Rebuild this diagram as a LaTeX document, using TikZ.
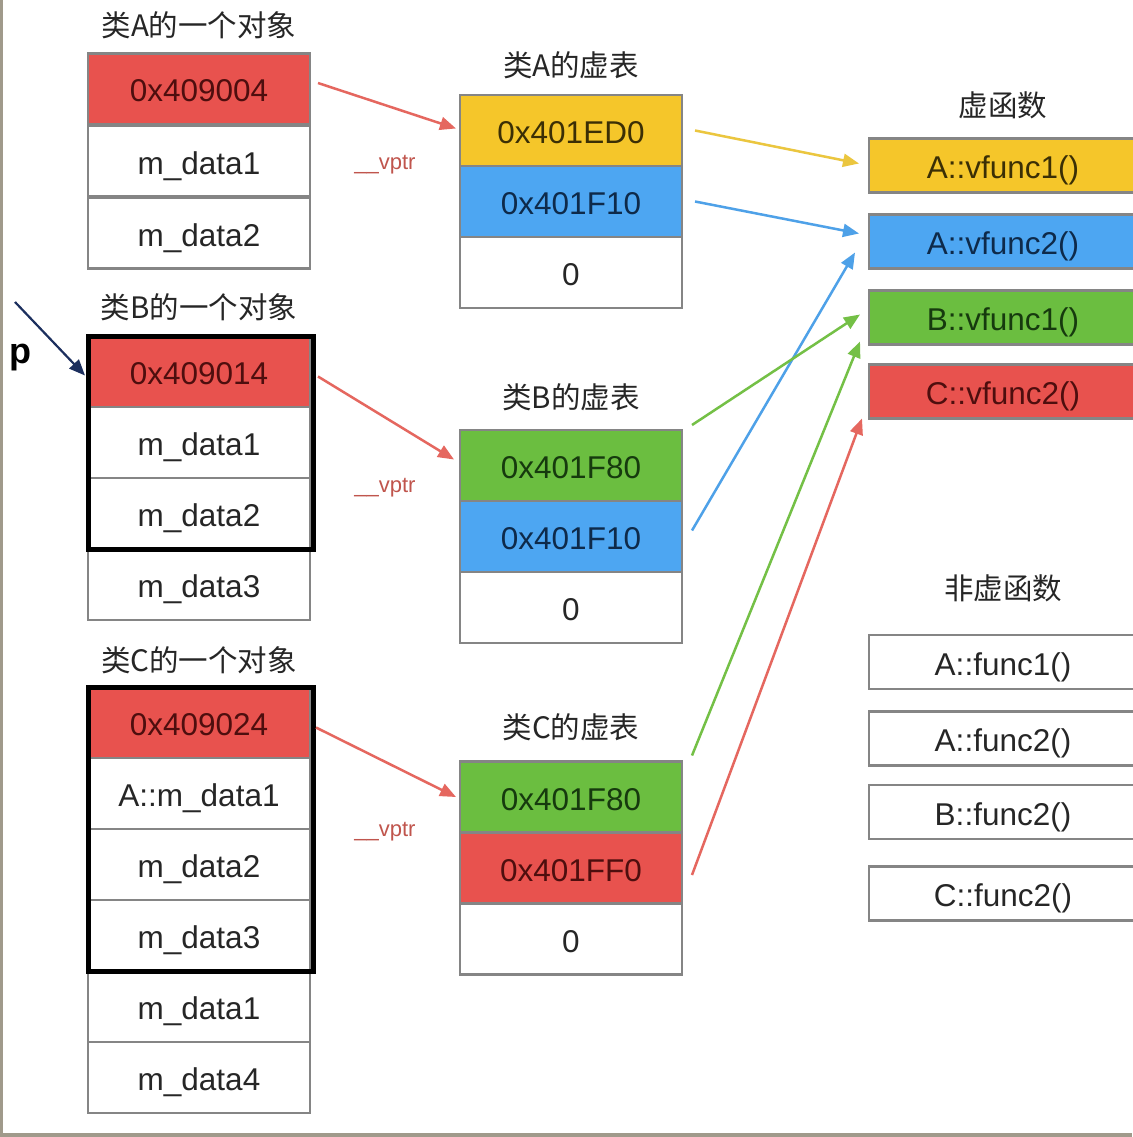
\documentclass[tikz,border=0pt]{standalone}
\usepackage{fontspec}
\setmainfont{Liberation Sans}
\newfontfamily\cjk{Noto Sans CJK SC}
\usetikzlibrary{arrows.meta}
\definecolor{cellred}{HTML}{E8524E}
\definecolor{cellyellow}{HTML}{F5C62A}
\definecolor{cellblue}{HTML}{4DA6F2}
\definecolor{cellgreen}{HTML}{6BBE40}
\definecolor{cellgrey}{HTML}{858585}
\definecolor{txtred}{HTML}{4E0E0E}
\definecolor{txtyellow}{HTML}{3B2F05}
\definecolor{txtblue}{HTML}{0E2A4A}
\definecolor{txtgreen}{HTML}{163A0E}
\definecolor{arrred}{HTML}{E5675F}
\definecolor{arryellow}{HTML}{EBC63F}
\definecolor{arrblue}{HTML}{4EA1E8}
\definecolor{arrgreen}{HTML}{74C046}
\definecolor{arrnavy}{HTML}{1C2F5E}
\definecolor{vptrcol}{HTML}{C0554D}
\definecolor{framecol}{HTML}{A09A8B}
\begin{document}
\begin{tikzpicture}[x=1pt,y=-1pt,
  cell/.style={draw=cellgrey, line width=2.5pt, minimum width=222pt, minimum height=71pt,
    inner sep=0pt, outer sep=0pt, font=\fontsize{31.5}{36}\selectfont, text=black!85,
    text height=26pt, text depth=0pt},
  fcell/.style={draw=cellgrey, line width=2.5pt, minimum width=268pt, minimum height=54pt,
    inner sep=0pt, outer sep=0pt, font=\fontsize{31.5}{36}\selectfont, text=black!85,
    text height=26pt, text depth=0pt},
  rcell/.style={fill=cellred, text=txtred},
  ycell/.style={fill=cellyellow, text=txtyellow},
  bcell/.style={fill=cellblue, text=txtblue},
  gcell/.style={fill=cellgreen, text=txtgreen},
  ttl/.style={font=\cjk\fontsize{29.5}{34}\selectfont, text=black!85, inner sep=0pt},
  vptr/.style={font=\fontsize{22}{26}\selectfont, text=vptrcol, inner sep=0pt},
  conn/.style={line width=2.5pt, -{Triangle[length=16pt,width=13pt]}},
  thick frame/.style={draw=black, line width=5pt}
]
\useasboundingbox (0,0) rectangle (1132,1137);
\fill[white] (0,0) rectangle (1132,1137);
\fill[framecol] (0,0) rectangle (2.5,1137);
\fill[framecol] (0,1133) rectangle (1132,1137);

% ---- object A
\node[ttl] (tA) at (199,25) {类A的一个对象};
\node[cell,rcell] (a1) at (199,89) {0x409004};
\node[cell] (a2) at (199,161) {m\_data1};
\node[cell] (a3) at (199,233) {m\_data2};

% ---- object B
\node[ttl] (tB) at (199,307) {类B的一个对象};
\node[cell,rcell] (b1) at (199,371.5) {0x409014};
\node[cell] (b2) at (199,442.5) {m\_data1};
\node[cell] (b3) at (199,513.5) {m\_data2};
\node[cell] (b4) at (199,584.5) {m\_data3};
\draw[thick frame] (b1.north west) rectangle ([xshift=3pt]b3.south east);

% ---- object C
\node[ttl] (tC) at (199,660) {类C的一个对象};
\node[cell,rcell] (c1) at (199,722.5) {0x409024};
\node[cell] (c2) at (199,793.5) {A::m\_data1};
\node[cell] (c3) at (199,864.5) {m\_data2};
\node[cell] (c4) at (199,935.5) {m\_data3};
\node[cell] (c5) at (199,1006.5) {m\_data1};
\node[cell] (c6) at (199,1077.5) {m\_data4};
\draw[thick frame] (c1.north west) rectangle ([xshift=3pt]c4.south east);

% ---- vtables
\node[ttl] (tvA) at (571,65) {类A的虚表};
\node[cell,ycell] (va1) at (571,130.5) {0x401ED0};
\node[cell,bcell] (va2) at (571,201.5) {0x401F10};
\node[cell] (va3) at (571,272.5) {0};

\node[ttl] (tvB) at (571,397) {类B的虚表};
\node[cell,gcell] (vb1) at (571,465.5) {0x401F80};
\node[cell,bcell] (vb2) at (571,536.5) {0x401F10};
\node[cell] (vb3) at (571,607.5) {0};

\node[ttl] (tvC) at (571,727) {类C的虚表};
\node[cell,gcell] (vc1) at (571,797) {0x401F80};
\node[cell,rcell] (vc2) at (571,868) {0x401FF0};
\node[cell] (vc3) at (571,939) {0};

% ---- virtual functions
\node[ttl] (tvf) at (1003,105) {虚函数};
\node[fcell,ycell] (vf1) at (1003,165.5) {A::vfunc1()};
\node[fcell,bcell] (vf2) at (1003,241.5) {A::vfunc2()};
\node[fcell,gcell] (vf3) at (1003,317.5) {B::vfunc1()};
\node[fcell,rcell] (vf4) at (1003,391.5) {C::vfunc2()};

% ---- non-virtual functions
\node[ttl] (tnf) at (1003,588) {非虚函数};
\node[fcell] (nf1) at (1003,662) {A::func1()};
\node[fcell] (nf2) at (1003,738.5) {A::func2()};
\node[fcell] (nf3) at (1003,812) {B::func2()};
\node[fcell] (nf4) at (1003,893.5) {C::func2()};

% ---- vptr labels
\node[vptr] (l1) at (385,165) {\_\_vptr};
\node[vptr] (l2) at (385,488) {\_\_vptr};
\node[vptr] (l3) at (385,832) {\_\_vptr};

% ---- pointer p
\node[font=\bfseries\fontsize{36}{40}\selectfont, inner sep=0pt] (p) at (20,358) {p};
\coordinate (pstart) at (15,302);
\draw[conn, arrnavy, line width=2.2pt] (pstart) -- ([xshift=-3pt,yshift=-4pt]b1.west);

% ---- vptr arrows
\draw[conn, arrred] ([xshift=8pt,yshift=6pt]a1.east) -- ([xshift=-4pt,yshift=2pt]va1.west);
\draw[conn, arrred] ([xshift=8pt,yshift=-5pt]b1.east) -- ([xshift=-6pt,yshift=6pt]vb1.west);
\draw[conn, arrred] ([xshift=6pt,yshift=-5pt]c1.east) -- ([xshift=-4pt]vc1.west);

% ---- vtable entries to functions
\draw[conn, arryellow] ([xshift=13pt]va1.east) -- ([xshift=-10pt,yshift=2pt]vf1.west);
\draw[conn, arrblue] ([xshift=13pt]va2.east) -- ([xshift=-10pt,yshift=8pt]vf2.west);
\draw[conn, arrblue] ([xshift=10pt,yshift=6pt]vb2.east) -- ([xshift=-14pt,yshift=16pt]vf2.south west);
\draw[conn, arrgreen] ([xshift=10pt,yshift=5pt]vb1.north east) -- ([xshift=-9pt,yshift=3pt]vf3.west);
\draw[conn, arrgreen] ([xshift=10pt,yshift=6pt]vc1.north east) -- ([xshift=-9pt,yshift=3pt]vf3.south west);
\draw[conn, arrred] ([xshift=10pt,yshift=-7pt]vc2.east) -- ([xshift=-7pt]vf4.south west);
\end{tikzpicture}
\end{document}
